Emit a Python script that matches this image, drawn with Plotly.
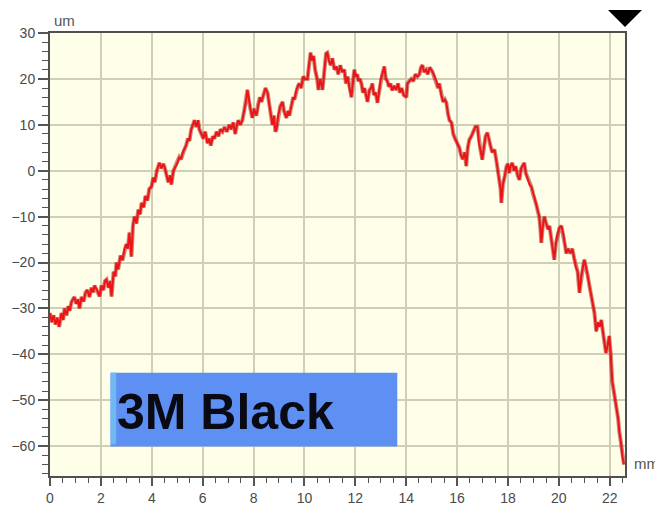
import plotly.graph_objects as go

# Profile data: position (mm) and height (um)
x_mm = [0.00, 0.07, 0.14, 0.22, 0.29, 0.36, 0.45, 0.52, 0.57, 0.65, 0.72, 0.77, 0.85, 0.96, 1.03, 1.10,
        1.16, 1.24, 1.32, 1.40, 1.47, 1.55, 1.63, 1.70, 1.75, 1.85, 1.95, 2.02, 2.10, 2.16, 2.22, 2.30,
        2.36, 2.42, 2.50, 2.57, 2.61, 2.68, 2.77, 2.85, 2.93, 3.00, 3.06, 3.12, 3.20, 3.26, 3.32, 3.40,
        3.47, 3.54, 3.60, 3.68, 3.75, 3.83, 3.90, 3.99, 4.06, 4.12, 4.20, 4.30, 4.38, 4.45, 4.50, 4.58,
        4.65, 4.72, 4.77, 4.85, 4.93, 5.01, 5.08, 5.15, 5.22, 5.28, 5.35, 5.42, 5.48, 5.55, 5.62, 5.68,
        5.75, 5.82, 5.87, 5.95, 6.03, 6.10, 6.19, 6.26, 6.32, 6.40, 6.46, 6.55, 6.62, 6.70, 6.78, 6.86,
        6.95, 7.05, 7.12, 7.20, 7.28, 7.33, 7.40, 7.48, 7.56, 7.63, 7.70, 7.76, 7.82, 7.88, 7.95, 8.02,
        8.11, 8.18, 8.25, 8.31, 8.40, 8.47, 8.55, 8.62, 8.68, 8.74, 8.80, 8.86, 8.90, 8.97, 9.05, 9.14,
        9.20, 9.29, 9.35, 9.41, 9.50, 9.56, 9.61, 9.68, 9.75, 9.80, 9.87, 9.95, 10.03, 10.12, 10.18, 10.24,
        10.30, 10.36, 10.42, 10.50, 10.55, 10.62, 10.71, 10.78, 10.85, 10.90, 10.96, 11.03, 11.10, 11.18, 11.26, 11.33,
        11.41, 11.48, 11.57, 11.63, 11.70, 11.77, 11.85, 11.90, 11.96, 12.02, 12.08, 12.12, 12.18, 12.24, 12.30, 12.36,
        12.42, 12.48, 12.55, 12.62, 12.67, 12.73, 12.80, 12.87, 12.93, 13.00, 13.06, 13.14, 13.20, 13.26, 13.32, 13.38,
        13.45, 13.52, 13.60, 13.68, 13.75, 13.82, 13.90, 14.01, 14.05, 14.12, 14.20, 14.28, 14.36, 14.44, 14.52, 14.58,
        14.64, 14.70, 14.78, 14.85, 14.92, 15.03, 15.10, 15.19, 15.25, 15.30, 15.38, 15.45, 15.52, 15.58, 15.64, 15.70,
        15.78, 15.85, 15.92, 16.00, 16.09, 16.15, 16.22, 16.30, 16.36, 16.42, 16.48, 16.56, 16.64, 16.72, 16.80, 16.86,
        16.92, 16.99, 17.05, 17.12, 17.19, 17.25, 17.31, 17.38, 17.47, 17.55, 17.62, 17.66, 17.71, 17.74, 17.80, 17.88,
        17.94, 18.00, 18.05, 18.10, 18.17, 18.24, 18.30, 18.38, 18.45, 18.52, 18.58, 18.64, 18.70, 18.77, 18.85, 18.92,
        18.98, 19.05, 19.12, 19.18, 19.23, 19.28, 19.31, 19.37, 19.43, 19.50, 19.58, 19.63, 19.68, 19.75, 19.82, 19.88,
        19.94, 20.02, 20.10, 20.18, 20.25, 20.29, 20.36, 20.45, 20.53, 20.60, 20.67, 20.74, 20.81, 20.88, 20.95, 21.00,
        21.07, 21.14, 21.20, 21.27, 21.34, 21.40, 21.47, 21.54, 21.60, 21.67, 21.73, 21.79, 21.85, 21.92, 21.98, 22.04,
        22.10, 22.16, 22.22, 22.28, 22.33, 22.38, 22.44, 22.50, 22.56]

y_um = [-31, -33, -31.5, -33.5, -32, -34, -31, -32.5, -30, -31.5, -29.5, -30.5, -28.5, -27.5, -29, -28,
        -30, -27.5, -28.5, -26.5, -26, -27.5, -25.5, -26.5, -25, -26, -27.4, -25, -26, -24, -23.7, -25.5,
        -24, -27.4, -22, -23, -20, -21.5, -18.5, -19.5, -17, -16, -17, -13.5, -18.7, -12, -10, -11.5,
        -8.5, -9.5, -7, -8, -5.5, -6.5, -4, -3.4, -1.5, -2.5, 0, 1.7, 0.5, 1.5, 0.9, -1,
        -2.5, -1, -3, 0, 1, 1.7, 3, 2.5, 4, 4.6, 5.5, 7, 6.5, 9, 10, 11,
        9.5, 11, 9, 8, 7, 8.5, 6, 7, 5.5, 7.5, 7, 8.5, 7.5, 9, 8.5, 9.5,
        8.5, 10, 9, 10.5, 8, 9.5, 11, 10, 11, 13, 15, 17.6, 15, 13.5, 11.5, 13.5,
        12, 14.5, 16, 15, 17, 18, 17, 14, 12.5, 10, 12, 8.5, 9, 12, 14, 15,
        13, 11.5, 13, 12, 14.5, 16, 15.5, 17.5, 18.5, 19, 18, 20.5, 20, 20, 23, 25.7,
        24, 25, 22, 20, 17.6, 20, 17.6, 22, 25.5, 25.7, 24, 23, 24.5, 22, 22.7, 21,
        23, 21.5, 22, 19, 20.5, 18, 16, 19, 22, 20.5, 21, 19.5, 20, 19, 17, 18,
        16, 15, 17.5, 18, 19, 16.5, 17, 14.8, 17, 20, 21, 22.7, 20, 19.5, 18.3, 19,
        17.5, 18.5, 17.6, 19, 17, 18, 16.5, 16, 19, 19.5, 20, 19.5, 21, 20.5, 21, 22.5,
        23, 21.5, 22, 21, 22.5, 21.6, 20.5, 19.5, 18, 19, 16.5, 15, 15.5, 14.8, 12.5, 11,
        10.5, 8, 7, 6, 5, 3.5, 2.5, 4, 1, 5, 6.7, 7.5, 8.5, 9.6, 9.6, 6,
        4.5, 2.4, 5, 7.5, 8.3, 6.5, 5.5, 4, 4.6, 2, -0.5, -2, -4, -7, -3, -1,
        0.9, 1.5, -0.5, 1, 1.7, 0, 1, -1, -2, 0.5, 1, 1.7, -0.5, -1.5, -3, -3.5,
        -5, -6, -7.5, -9, -10, -13, -15.7, -12, -10, -11.5, -12.8, -12, -14, -16, -19.4, -16,
        -14, -12.5, -12, -14, -16.5, -18, -17, -18, -17, -19, -21, -22, -26.6, -23, -21, -19.4,
        -21, -23, -25, -27, -29, -31, -35, -33, -34, -32.5, -35, -37, -39.7, -38, -36, -40,
        -46, -48, -50, -51.4, -54, -57, -59, -62.3, -64]

x_ticks = [0, 2, 4, 6, 8, 10, 12, 14, 16, 18, 20, 22]
y_ticks = [-60, -50, -40, -30, -20, -10, 0, 10, 20, 30]
label_text = "3M Black"
x_unit = "mm"
y_unit = "um"

fig = go.Figure()
fig.add_trace(go.Scatter(x=x_mm, y=y_um, mode="lines",
                         line=dict(color="#a01212", width=4), opacity=0.5,
                         hoverinfo="skip", showlegend=False))
fig.add_trace(go.Scatter(x=x_mm, y=y_um, mode="lines",
                         line=dict(color="#ec1414", width=2), showlegend=False))

axis_font = dict(family="Liberation Sans, Arial, sans-serif", size=14, color="#4a4a4a")

fig.update_xaxes(range=[0, 22.6], tickvals=x_ticks, ticks="outside", ticklen=8, tickwidth=1.5,
                 tickcolor="#555555", showgrid=True, gridcolor="#cfcfb6", gridwidth=1.5,
                 showline=True, linecolor="#505050", linewidth=2, mirror=True,
                 zeroline=False, tickfont=axis_font, automargin=False,
                 minor=dict(dtick=0.5, tick0=0, ticks="outside", ticklen=5, tickcolor="#555555",
                            tickwidth=1, showgrid=False))
fig.update_yaxes(range=[-66.5, 30], tickvals=y_ticks, ticks="outside", ticklen=10, tickwidth=1.5,
                 tickcolor="#555555", showgrid=True, gridcolor="#cfcfb6", gridwidth=1.5,
                 showline=True, linecolor="#505050", linewidth=2, mirror=True,
                 zeroline=False, tickfont=axis_font, automargin=False,
                 minor=dict(dtick=2, tick0=0, ticks="outside", ticklen=6, tickcolor="#555555",
                            tickwidth=1, showgrid=False))

# label box
fig.add_shape(type="rect", xref="x", yref="y", x0=2.38, x1=13.65, y0=-60.1, y1=-44,
              fillcolor="#5e8ff2", line=dict(width=0), layer="above")
fig.add_shape(type="rect", xref="x", yref="y", x0=2.38, x1=2.6, y0=-59.6, y1=-44,
              fillcolor="#6fb8f2", line=dict(width=0), layer="above")
fig.add_annotation(x=6.88, y=-52.6, xref="x", yref="y", text="<b>" + label_text + "</b>",
                   showarrow=False, font=dict(family="Liberation Sans, Arial, sans-serif",
                                              size=50, color="#0a0a14"))

# unit labels
fig.add_annotation(x=0.004, y=1.029, xref="paper", yref="paper", text=y_unit, showarrow=False,
                   xanchor="left", yanchor="middle",
                   font=dict(family="Liberation Sans, Arial, sans-serif", size=15, color="#555555"))
fig.add_annotation(x=1.012, y=0.028, xref="paper", yref="paper", text=x_unit, showarrow=False,
                   xanchor="left", yanchor="middle",
                   font=dict(family="Liberation Sans, Arial, sans-serif", size=15, color="#555555"))

# marker triangle at top right
fig.add_shape(type="path", xref="paper", yref="paper",
              path="M 0.9704 1.0519 L 1.0296 1.0519 L 1.0 1.0135 Z",
              fillcolor="#000000", line=dict(width=0))

# page body has an 8px margin, so the figure is sized to fit the window
fig.update_layout(width=655, height=500, margin=dict(l=42, r=38, t=25, b=32),
                  paper_bgcolor="#ffffff", plot_bgcolor="#fffee8", showlegend=False)

fig.write_html("out.html")
